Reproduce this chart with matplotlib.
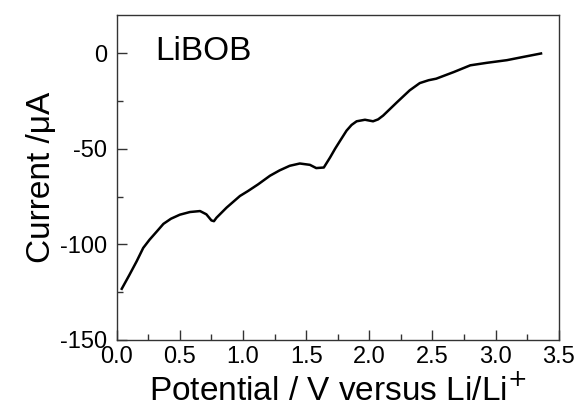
import matplotlib
matplotlib.use("Agg")
import matplotlib.pyplot as plt
from matplotlib.ticker import MultipleLocator, FormatStrFormatter

plt.rcParams['font.family'] = ['Liberation Sans', 'DejaVu Sans']
plt.rcParams['axes.unicode_minus'] = False

potential = [0.04, 0.10, 0.158, 0.21, 0.26, 0.32, 0.37, 0.43, 0.50, 0.58, 0.66, 0.71, 0.75,
             0.77, 0.79, 0.87, 0.976, 1.04, 1.12, 1.214, 1.29, 1.37, 1.45, 1.53, 1.58, 1.64,
             1.69, 1.73, 1.77, 1.82, 1.86, 1.90, 1.966, 2.03, 2.07, 2.11, 2.22, 2.32, 2.40,
             2.47, 2.53, 2.67, 2.80, 2.93, 3.09, 3.22, 3.36]
current = [-123.2, -116.0, -108.8, -101.8, -97.5, -93.0, -89.2, -86.5, -84.4, -83.0, -82.5,
           -84.2, -87.4, -87.8, -86.0, -80.7, -74.6, -72.0, -68.5, -64.0, -61.2, -58.8, -57.6,
           -58.3, -60.0, -59.7, -54.4, -49.8, -45.6, -40.4, -37.4, -35.5, -34.7, -35.5, -34.5,
           -32.5, -25.5, -19.3, -15.5, -14.0, -13.2, -9.7, -6.2, -4.9, -3.5, -1.8, 0.0]

fig = plt.figure(figsize=(5.79, 4.12), dpi=100)
ax = fig.add_axes([116.7/579, 1-340/412, (558.7-116.7)/579, (340-14.7)/412])
ax.plot(potential, current, color='black', lw=1.8)

ax.set_xlim(0, 3.5)
ax.set_ylim(-150, 20.3)
ax.xaxis.set_major_locator(MultipleLocator(0.5))
ax.xaxis.set_minor_locator(MultipleLocator(0.25))
ax.yaxis.set_major_locator(MultipleLocator(50))
ax.yaxis.set_minor_locator(MultipleLocator(25))
ax.xaxis.set_major_formatter(FormatStrFormatter('%.1f'))
ax.tick_params(which='both', direction='in', top=False, right=False, labelsize=17, color='#333333')
ax.tick_params(axis='x', pad=4.5)
ax.tick_params(axis='y', pad=7)
ax.tick_params(which='major', length=7, width=1)
ax.tick_params(which='minor', length=4, width=1)
for s in ax.spines.values():
    s.set_color('#333333')
    s.set_linewidth(1.0)

ax.set_xlabel('Potential / V versus Li/Li$^{+}$', fontsize=24, labelpad=5)
ax.set_ylabel('Current /μA', fontsize=24, labelpad=2)
ax.text(0.087, 0.888, 'LiBOB', transform=ax.transAxes, fontsize=24, va='center', ha='left')

fig.savefig('out.png', dpi=100)
